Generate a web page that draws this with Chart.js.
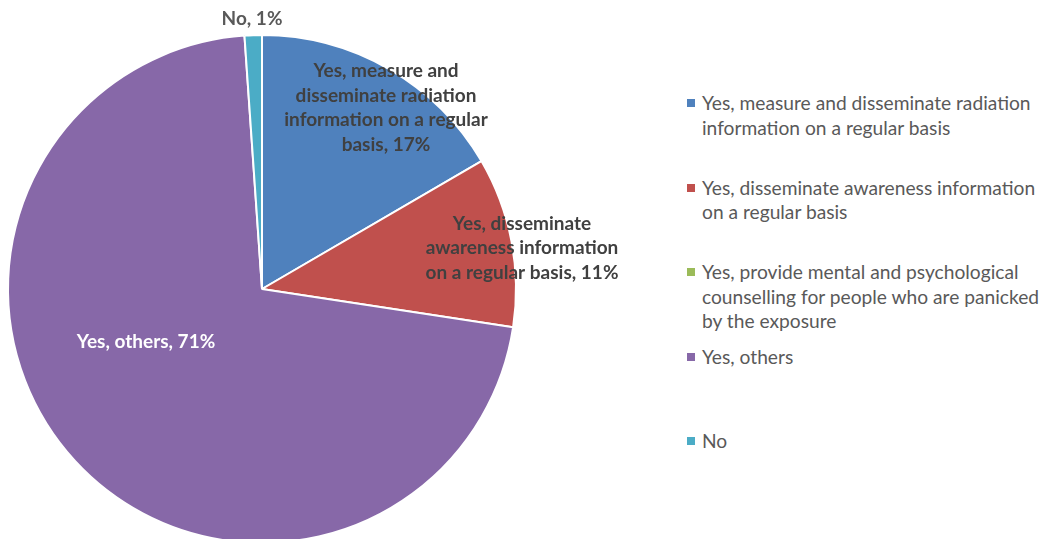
<!DOCTYPE html>
<html>
<head>
<meta charset="utf-8">
<script src="https://cdn.jsdelivr.net/npm/chart.js@4"></script>
<style>
  html, body { margin: 0; padding: 0; background: #fff; overflow: hidden; }
  body { width: 1043px; height: 539px; position: relative; font-family: Lato, "Open Sans", sans-serif; }
  #pie-wrap { position: absolute; left: 0; top: 0; width: 660px; height: 580px; }
  #legend { position: absolute; left: 684px; top: 91px; margin: 0; padding: 0; list-style: none; }
  #legend li { position: absolute; left: 0; width: 360px; font-size: 19.2px; line-height: 24.5px; color: #595959; padding-left: 18px; white-space: nowrap; }
  #legend li span.box { position: absolute; left: 3px; top: 8px; width: 8px; height: 8px; }
</style>
</head>
<body>
<div id="pie-wrap"><canvas id="chart-answer__pie"></canvas></div>
<ul id="legend"></ul>
<script>
const categories = [
  "Yes, measure and disseminate radiation information on a regular basis",
  "Yes, disseminate awareness information on a regular basis",
  "Yes, provide mental and psychological counselling for people who are panicked by the exposure",
  "Yes, others",
  "No",
];
const shares = [16.6, 10.8, 0, 71.5, 1.1];
const colors = ["#4f81bd", "#c0504d", "#9bbb59", "#8768a8", "#4bacc6"];

// legend text as it wraps in the picture
const legendLines = [
  ["Yes, measure and disseminate radiation", "information on a regular basis"],
  ["Yes, disseminate awareness information", "on a regular basis"],
  ["Yes, provide mental and psychological", "counselling for people who are panicked", "by the exposure"],
  ["Yes, others"],
  ["No"],
];

// slice labels (null = no label), wrapped lines, offset from pie centre
const sliceLabels = [
  { lines: ["Yes, measure and", "disseminate radiation", "information on a regular", "basis, 17%"], dx: 124, dy: -181, color: "#404040" },
  { lines: ["Yes, disseminate", "awareness information", "on a regular basis, 11%"], dx: 260, dy: -41, color: "#404040" },
  null,
  { lines: ["Yes, others, 71%"], dx: -116, dy: 53, color: "#ffffff" },
  { lines: ["No, 1%"], dx: -10, dy: -270, color: "#595959" },
];

const legend = document.getElementById("legend");
legendLines.forEach((lines, i) => {
  const li = document.createElement("li");
  li.style.top = (i * 84.5) + "px";
  li.innerHTML = `<span class="box" style="background:${colors[i]}"></span>` + lines.join("<br>");
  legend.appendChild(li);
});

const labelPlugin = {
  id: "sliceLabels",
  afterDatasetsDraw(chart) {
    const ctx = chart.ctx;
    const arc = chart.getDatasetMeta(0).data[0];
    const cx = arc.x, cy = arc.y;
    ctx.save();
    ctx.font = "bold 19px Lato, 'Open Sans', sans-serif";
    ctx.textAlign = "center";
    ctx.textBaseline = "middle";
    sliceLabels.forEach(lab => {
      if (!lab) return;
      const lh = 24.5;
      const top = cy + lab.dy - (lab.lines.length - 1) * lh / 2;
      ctx.fillStyle = lab.color;
      lab.lines.forEach((t, k) => ctx.fillText(t, cx + lab.dx, top + k * lh));
    });
    ctx.restore();
  },
};

const ctx = document.getElementById("chart-answer__pie").getContext("2d");
const my_chart = new Chart(ctx, {
  type: "pie",
  data: {
    labels: categories,
    datasets: [
      {
        label: "Answers",
        data: shares,
        backgroundColor: colors,
        borderColor: "#ffffff",
        borderWidth: 2,
      },
    ],
  },
  options: {
    responsive: true,
    maintainAspectRatio: false,
    animation: false,
    layout: { padding: { left: 7, top: 34, right: 143, bottom: 36 } },
    plugins: {
      legend: { display: false },
      tooltip: { enabled: false },
    },
  },
  plugins: [labelPlugin],
});
</script>
</body>
</html>
